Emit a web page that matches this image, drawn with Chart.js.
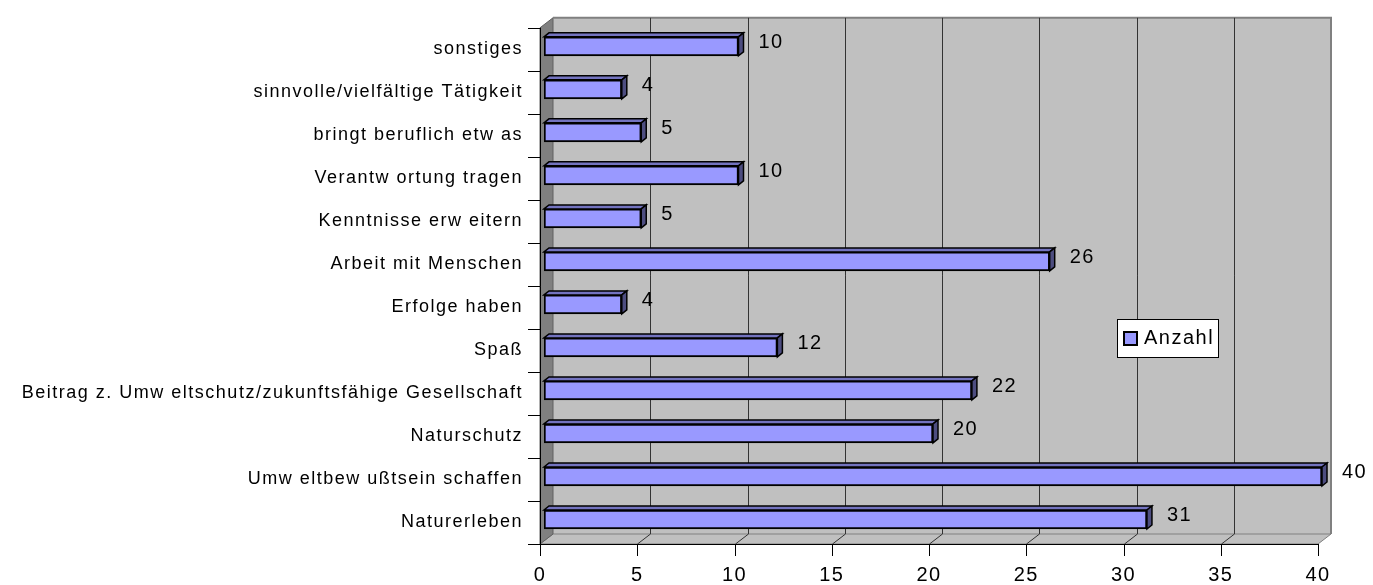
<!DOCTYPE html>
<html>
<head>
<meta charset="utf-8">
<script src="https://cdn.jsdelivr.net/npm/chart.js@4.4.1/dist/chart.umd.min.js"></script>
<style>
  html, body { margin: 0; padding: 0; background: #fff; }
</style>
</head>
<body>
<canvas id="myChart" width="1373" height="585"></canvas>
<script>
// categories top to bottom, as in the picture
const categories = [
    'sonstiges',
    'sinnvolle/vielfältige Tätigkeit',
    'bringt beruflich etw as',
    'Verantw ortung tragen',
    'Kenntnisse erw eitern',
    'Arbeit mit Menschen',
    'Erfolge haben',
    'Spaß',
    'Beitrag z. Umw eltschutz/zukunftsfähige Gesellschaft',
    'Naturschutz',
    'Umw eltbew ußtsein schaffen',
    'Naturerleben'
];
const counts = [10, 4, 5, 10, 5, 26, 4, 12, 22, 20, 40, 31];
const seriesName = 'Anzahl';
const xMin = 0;
const xMax = 40;
const xStep = 5;

const font = "'Liberation Sans', Arial, sans-serif";
const wallDX = 13, wallDY = 10;   // depth of the 3d walls
const barDX = 5, barDY = 4;       // depth of the bars

const frame3d = {
    id: 'frame3d',
    beforeDraw(chart) {
        const ctx = chart.ctx;
        const a = chart.chartArea;
        const xs = chart.scales.x;
        ctx.letterSpacing = '1.5px';
        ctx.save();
        ctx.fillStyle = '#fff';
        ctx.fillRect(0, 0, chart.width, chart.height);

        // back wall
        ctx.fillStyle = '#c0c0c0';
        ctx.fillRect(a.left + wallDX, a.top - wallDY, a.right - a.left, a.bottom - a.top);
        // floor
        ctx.beginPath();
        ctx.moveTo(a.left, a.bottom);
        ctx.lineTo(a.left + wallDX, a.bottom - wallDY);
        ctx.lineTo(a.right + wallDX, a.bottom - wallDY);
        ctx.lineTo(a.right, a.bottom);
        ctx.closePath();
        ctx.fill();
        ctx.strokeStyle = '#808080';
        ctx.lineWidth = 1;
        ctx.stroke();
        // left wall
        ctx.fillStyle = '#808080';
        ctx.beginPath();
        ctx.moveTo(a.left, a.top);
        ctx.lineTo(a.left + wallDX, a.top - wallDY);
        ctx.lineTo(a.left + wallDX, a.bottom - wallDY);
        ctx.lineTo(a.left, a.bottom);
        ctx.closePath();
        ctx.fill();
        ctx.strokeStyle = '#606060';
        ctx.stroke();

        // back wall outline
        ctx.strokeStyle = '#808080';
        ctx.lineWidth = 2;
        ctx.beginPath();
        ctx.moveTo(a.left + wallDX, a.top - wallDY);
        ctx.lineTo(a.right + wallDX, a.top - wallDY);
        ctx.lineTo(a.right + wallDX, a.bottom - wallDY);
        ctx.stroke();

        // grid lines on back wall + floor
        ctx.strokeStyle = '#333';
        ctx.lineWidth = 1;
        for (let v = xMin + xStep; v < xMax; v += xStep) {
            const px = Math.round(xs.getPixelForValue(v)) + 0.5;
            ctx.beginPath();
            ctx.moveTo(px + wallDX, a.top - wallDY);
            ctx.lineTo(px + wallDX, a.bottom - wallDY);
            ctx.lineTo(px, a.bottom);
            ctx.stroke();
        }

        // axes lines and tick marks
        ctx.strokeStyle = '#000';
        ctx.beginPath();
        ctx.moveTo(a.left + 0.5, a.top);
        ctx.lineTo(a.left + 0.5, a.bottom + 0.5);
        ctx.lineTo(a.right, a.bottom + 0.5);
        for (let v = xMin; v <= xMax; v += xStep) {
            const px = Math.round(xs.getPixelForValue(v)) + 0.5;
            ctx.moveTo(px, a.bottom);
            ctx.lineTo(px, a.bottom + 12);
        }
        const band = (a.bottom - a.top) / categories.length;
        for (let i = 0; i <= categories.length; i++) {
            const py = Math.round(a.top + i * band) + 0.5;
            ctx.moveTo(a.left - 12, py);
            ctx.lineTo(a.left, py);
        }
        ctx.stroke();
        ctx.restore();
    },
    beforeDatasetsDraw(chart) {
        chart.ctx.save();
        chart.ctx.translate(4, -3);
    },
    afterDatasetsDraw(chart) {
        const ctx = chart.ctx;
        const bars = chart.getDatasetMeta(0).data;
        ctx.lineWidth = 1.5;
        ctx.strokeStyle = '#000';
        bars.forEach(b => {
            const top = b.y - b.height / 2;
            const bottom = b.y + b.height / 2;
            ctx.fillStyle = '#7373bf';
            ctx.beginPath();
            ctx.moveTo(b.base, top);
            ctx.lineTo(b.base + barDX, top - barDY);
            ctx.lineTo(b.x + barDX, top - barDY);
            ctx.lineTo(b.x, top);
            ctx.closePath();
            ctx.fill();
            ctx.stroke();
            ctx.fillStyle = '#4d4d80';
            ctx.beginPath();
            ctx.moveTo(b.x, top);
            ctx.lineTo(b.x + barDX, top - barDY);
            ctx.lineTo(b.x + barDX, bottom - barDY);
            ctx.lineTo(b.x, bottom);
            ctx.closePath();
            ctx.fill();
            ctx.stroke();
        });
        ctx.restore();

        // value labels
        const xs = chart.scales.x, ys = chart.scales.y;
        ctx.save();
        ctx.fillStyle = '#000';
        ctx.font = '20px ' + font;
        ctx.textAlign = 'left';
        ctx.textBaseline = 'middle';
        counts.forEach((v, i) => {
            ctx.fillText(String(v), xs.getPixelForValue(v) + 24, ys.getPixelForValue(i) - 7);
        });

        // legend box
        ctx.fillStyle = '#fff';
        ctx.fillRect(1117, 319, 101, 38);
        ctx.strokeStyle = '#000';
        ctx.lineWidth = 1;
        ctx.strokeRect(1117.5, 319.5, 101, 38);
        ctx.fillStyle = '#9999ff';
        ctx.fillRect(1124, 332, 13, 13);
        ctx.lineWidth = 2;
        ctx.strokeRect(1124, 332, 13, 13);
        ctx.fillStyle = '#000';
        ctx.fillText(seriesName, 1144, 338);
        ctx.restore();
    }
};

const ctx = document.getElementById('myChart').getContext('2d');
const chart = new Chart(ctx, {
    type: 'bar',
    data: {
        labels: categories,
        datasets: [{
            label: seriesName,
            data: counts,
            backgroundColor: '#9999ff',
            borderColor: '#000',
            borderWidth: 2,
            borderSkipped: false,
            barThickness: 19
        }]
    },
    options: {
        indexAxis: 'y',
        responsive: false,
        animation: false,
        devicePixelRatio: 1,
        layout: { padding: { top: 23, right: 55, left: 0, bottom: 0 } },
        plugins: {
            legend: { display: false },
            tooltip: { enabled: false }
        },
        scales: {
            x: {
                min: xMin,
                max: xMax,
                grid: { display: false, drawTicks: false },
                border: { display: false },
                ticks: {
                    stepSize: xStep,
                    padding: 19,
                    color: '#000',
                    font: { family: font, size: 20 },
                    maxRotation: 0
                },
                afterFit(scale) { scale.height = 41; }
            },
            y: {
                grid: { display: false, drawTicks: false },
                border: { display: false },
                ticks: {
                    padding: 17,
                    color: '#000',
                    font: { family: font, size: 18 },
                    autoSkip: false
                },
                afterFit(scale) { scale.width = 540; }
            }
        }
    },
    plugins: [frame3d]
});
</script>
</body>
</html>
